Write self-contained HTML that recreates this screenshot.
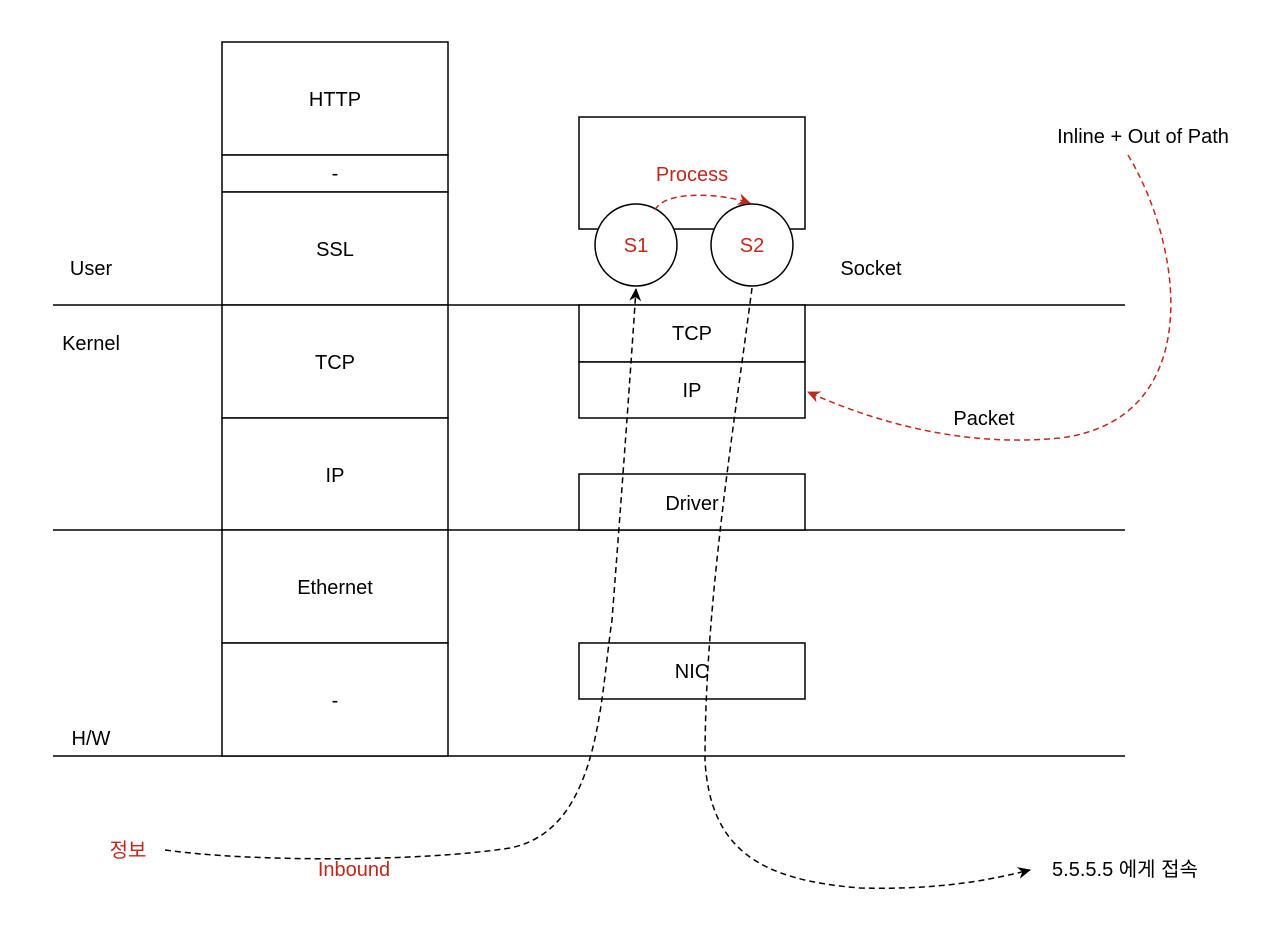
<!DOCTYPE html>
<html><head><meta charset="utf-8"><style>
html,body{margin:0;padding:0;background:#fff;}
svg{display:block;font-family:"Liberation Sans","Noto Sans CJK KR",sans-serif;}
</style></head><body>
<svg width="1280" height="949" viewBox="0 0 1280 949" xmlns="http://www.w3.org/2000/svg">
<defs>
<marker id="ab" markerWidth="14" markerHeight="14" refX="12" refY="7" orient="auto" markerUnits="userSpaceOnUse"><path d="M0,1 L13,7 L0,13 L4,7 Z" fill="#000"/></marker>
<marker id="ar" markerWidth="14" markerHeight="14" refX="12" refY="7" orient="auto" markerUnits="userSpaceOnUse"><path d="M0,1 L13,7 L0,13 L4,7 Z" fill="#c0281c"/></marker>
</defs>
<g fill="none" stroke="#000" stroke-width="1.5">
<line x1="53" y1="305" x2="1125" y2="305"/>
<line x1="53" y1="530" x2="1125" y2="530"/>
<line x1="53" y1="756" x2="1125" y2="756"/>
<rect x="222" y="42" width="226" height="113" fill="#fff"/>
<rect x="222" y="155" width="226" height="37" fill="#fff"/>
<rect x="222" y="192" width="226" height="113" fill="#fff"/>
<rect x="222" y="305" width="226" height="113" fill="#fff"/>
<rect x="222" y="418" width="226" height="112" fill="#fff"/>
<rect x="222" y="530" width="226" height="113" fill="#fff"/>
<rect x="222" y="643" width="226" height="113" fill="#fff"/>
<rect x="579" y="117" width="226" height="112" fill="#fff"/>
<rect x="579" y="305" width="226" height="57" fill="#fff"/>
<rect x="579" y="362" width="226" height="56" fill="#fff"/>
<rect x="579" y="474" width="226" height="56" fill="#fff"/>
<rect x="579" y="643" width="226" height="56" fill="#fff"/>
<circle cx="636" cy="245" r="41" fill="#fff"/>
<circle cx="752" cy="245" r="41" fill="#fff"/>
</g>
<g font-size="20" text-anchor="middle" fill="#000">
<text x="335" y="106">HTTP</text>
<text x="335" y="180">-</text>
<text x="335" y="256">SSL</text>
<text x="335" y="369">TCP</text>
<text x="335" y="482">IP</text>
<text x="335" y="594">Ethernet</text>
<text x="335" y="707">-</text>
<text x="692" y="340">TCP</text>
<text x="692" y="397">IP</text>
<text x="692" y="510">Driver</text>
<text x="692" y="678">NIC</text>
<text x="91" y="275">User</text>
<text x="91" y="350">Kernel</text>
<text x="91" y="745">H/W</text>
<text x="871" y="275">Socket</text>
<text x="984" y="425">Packet</text>
<text x="1143" y="143">Inline + Out of Path</text>
<text x="1125" y="876">5.5.5.5 에게 접속</text>
</g>
<g font-size="20" text-anchor="middle" fill="#c0281c">
<text x="692" y="181">Process</text>
<text x="636" y="252">S1</text>
<text x="752" y="252">S2</text>
<text x="128" y="857">정보</text>
<text x="354" y="876">Inbound</text>
</g>
<g fill="none" stroke-dasharray="6,4" stroke-width="1.5">
<path d="M655,210 C665,190 720,193 750,203" stroke="#c0281c" marker-end="url(#ar)"/>
<path d="M1128,155 C1185,250 1205,420 1060,438 C960,448 870,420 808,392" stroke="#c0281c" marker-end="url(#ar)"/>
<path d="M165,850 C250,862 420,862 510,848 C600,830 600,700 612,620 C625,450 632,350 636,289" stroke="#000" marker-end="url(#ab)"/>
<path d="M752,288 C735,420 705,600 705,760 C710,850 760,880 860,888 C940,890 990,880 1030,870" stroke="#000" marker-end="url(#ab)"/>
</g>
</svg>
</body></html>
